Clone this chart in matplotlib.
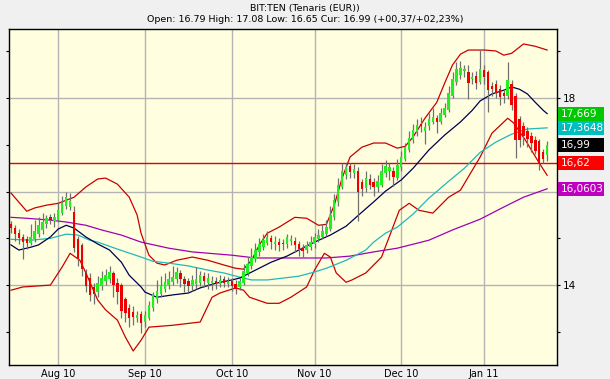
import matplotlib
matplotlib.use("Agg")
import matplotlib.pyplot as plt
import matplotlib.transforms as mtransforms
from matplotlib.patches import Rectangle

# ---- data ----
opens = [15.30, 15.22, 15.12, 15.02, 14.98, 14.90, 14.98, 15.10, 15.18, 15.30,
         15.45, 15.38, 15.40, 15.55, 15.70, 15.68, 15.56, 14.98, 14.85, 14.26,
         14.15, 13.95, 13.85, 13.98, 14.08, 14.12, 14.25, 14.05, 14.00, 13.70,
         13.50, 13.42, 13.30, 13.38, 13.20, 13.30, 13.50, 13.70, 13.82, 13.92,
         14.00, 14.06, 14.12, 14.25, 14.12, 14.08, 13.98, 14.02, 14.05, 14.20,
         14.05, 14.05, 14.08, 14.02, 14.12, 14.02, 14.08, 14.02, 13.95, 14.05,
         14.25, 14.40, 14.55, 14.70, 14.82, 14.90, 15.00, 14.88, 14.92, 14.90,
         14.88, 14.95, 14.95, 14.88, 14.80, 14.75, 14.82, 14.88, 14.98, 15.02,
         15.10, 15.20, 15.45, 15.78, 16.10, 16.35, 16.55, 16.40, 16.45, 16.20,
         16.08, 16.28, 16.20, 16.10, 16.15, 16.40, 16.45, 16.45, 16.30, 16.52,
         16.70, 16.90, 17.10, 17.28, 17.45, 17.30, 17.40, 17.50, 17.58, 17.50,
         17.65, 17.75, 18.05, 18.35, 18.50, 18.58, 18.56, 18.40, 18.48, 18.35,
         18.60, 18.55, 18.25, 18.30, 18.20, 18.12, 18.05, 18.30, 18.05, 17.55,
         17.40, 17.30, 17.20, 17.10, 17.08, 16.85, 16.79]
highs = [15.38, 15.28, 15.20, 15.10, 15.05, 15.30, 15.40, 15.45, 15.55, 15.50,
         15.52, 15.55, 15.75, 15.90, 15.99, 15.97, 15.70, 15.05, 14.90, 14.35,
         14.25, 14.05, 14.20, 14.30, 14.35, 14.40, 14.30, 14.15, 14.05, 13.75,
         13.60, 13.55, 13.45, 13.45, 13.45, 13.65, 13.85, 14.10, 14.20, 14.25,
         14.30, 14.40, 14.38, 14.32, 14.20, 14.15, 14.22, 14.38, 14.30, 14.28,
         14.25, 14.20, 14.18, 14.22, 14.20, 14.18, 14.15, 14.10, 14.15, 14.45,
         14.60, 14.80, 14.90, 15.00, 15.10, 15.15, 15.08, 15.05, 15.00, 14.98,
         15.10, 15.08, 15.02, 14.95, 14.88, 14.95, 15.05, 15.12, 15.20, 15.30,
         15.40, 15.70, 15.95, 16.30, 16.62, 16.62, 16.62, 16.60, 16.52, 16.28,
         16.45, 16.38, 16.30, 16.35, 16.60, 16.68, 16.62, 16.52, 16.70, 16.88,
         17.05, 17.30, 17.45, 17.55, 17.60, 17.48, 17.68, 17.78, 17.65, 17.80,
         17.90, 18.25, 18.55, 18.78, 18.80, 18.72, 18.72, 18.55, 18.58, 19.03,
         18.70, 18.60, 18.35, 18.38, 18.28, 18.20, 18.77, 18.38, 18.10, 17.62,
         17.48, 17.38, 17.28, 17.18, 17.12, 16.92, 17.08]
lows = [15.12, 14.95, 14.88, 14.55, 14.78, 14.85, 14.92, 15.02, 15.10, 15.22,
        15.30, 15.25, 15.35, 15.50, 15.62, 15.60, 14.70, 14.40, 14.20, 13.85,
        13.65, 13.60, 13.75, 13.90, 14.00, 14.05, 13.75, 13.60, 13.30, 13.20,
        13.10, 13.15, 13.20, 12.98, 13.10, 13.25, 13.45, 13.62, 13.75, 13.85,
        13.92, 14.00, 14.05, 13.95, 13.85, 13.85, 13.88, 13.92, 13.98, 13.95,
        13.92, 13.90, 13.92, 13.95, 13.95, 13.95, 13.88, 13.80, 13.90, 14.00,
        14.20, 14.35, 14.50, 14.62, 14.75, 14.85, 14.78, 14.75, 14.72, 14.75,
        14.80, 14.85, 14.70, 14.62, 14.60, 14.68, 14.75, 14.80, 14.92, 14.98,
        15.05, 15.15, 15.40, 15.70, 16.05, 16.28, 16.30, 16.30, 15.38, 15.90,
        16.00, 16.05, 15.90, 16.00, 16.10, 16.32, 16.25, 16.12, 16.25, 16.45,
        16.65, 16.85, 17.05, 17.20, 17.28, 17.02, 17.32, 17.45, 17.25, 17.45,
        17.60, 17.70, 18.00, 18.28, 18.40, 18.45, 17.98, 18.30, 18.20, 18.30,
        18.30, 17.70, 18.05, 18.00, 17.85, 17.90, 17.98, 17.75, 16.72, 16.95,
        17.00, 16.95, 16.85, 16.80, 16.46, 16.62, 16.65]
closes = [15.22, 15.10, 15.00, 14.92, 14.90, 15.02, 15.15, 15.28, 15.35, 15.43,
          15.40, 15.45, 15.60, 15.75, 15.88, 15.80, 14.80, 14.55, 14.35, 13.98,
          13.78, 13.82, 14.05, 14.15, 14.22, 14.28, 14.00, 13.85, 13.45, 13.40,
          13.30, 13.32, 13.36, 13.18, 13.35, 13.58, 13.78, 13.88, 13.98, 14.06,
          14.12, 14.18, 14.28, 14.12, 14.02, 13.98, 14.10, 14.12, 14.22, 14.08,
          14.15, 14.08, 14.04, 14.10, 14.05, 14.06, 13.98, 13.92, 14.08, 14.30,
          14.45, 14.60, 14.75, 14.88, 14.96, 15.02, 14.92, 14.92, 14.86, 14.88,
          15.02, 14.98, 14.85, 14.78, 14.72, 14.86, 14.92, 15.02, 15.08, 15.15,
          15.25, 15.50, 15.82, 16.15, 16.45, 16.52, 16.42, 16.48, 16.00, 16.05,
          16.30, 16.15, 16.10, 16.22, 16.45, 16.55, 16.52, 16.32, 16.58, 16.75,
          16.95, 17.15, 17.32, 17.42, 17.40, 17.38, 17.55, 17.60, 17.50, 17.68,
          17.78, 18.10, 18.40, 18.62, 18.65, 18.62, 18.32, 18.45, 18.32, 18.62,
          18.45, 18.18, 18.20, 18.12, 18.02, 18.05, 18.38, 17.85, 17.10, 17.10,
          17.20, 17.12, 17.05, 16.88, 16.60, 16.70, 16.99]

# month ticks (trading-day index of first session of each month)
month_idx = [12, 34, 56, 77, 99, 120]
month_labels = ["Aug 10", "Sep 10", "Oct 10", "Nov 10", "Dec 10", "Jan 11"]

# indicator lines read at sampled trading-day indices
ma_short_x = [0, 2, 5, 7, 10, 12, 14, 16, 19, 22, 25, 28, 30, 33, 34, 37, 41, 45, 48,
              52, 56, 58, 62, 66, 70, 73, 77, 81, 85, 89, 92, 95, 99, 102, 106, 110,
              114, 117, 119, 122, 125, 127, 129, 131, 133, 135, 136]
ma_short_y = [14.86, 14.75, 14.81, 14.86, 15.03, 15.20, 15.28, 15.22, 15.03, 14.88,
              14.75, 14.49, 14.21, 13.96, 13.85, 13.74, 13.79, 13.83, 13.94, 14.04,
              14.11, 14.15, 14.32, 14.49, 14.62, 14.75, 14.92, 15.07, 15.26, 15.56,
              15.78, 16.01, 16.25, 16.50, 16.89, 17.21, 17.49, 17.74, 17.94, 18.09,
              18.17, 18.24, 18.19, 18.09, 17.91, 17.74, 17.669]

ma_mid_x = [0, 5, 10, 14, 17, 20, 22, 27, 33, 36, 40, 45, 50, 54, 58, 61, 65, 69, 73,
            77, 80, 85, 90, 92, 95, 98, 102, 106, 111, 115, 119, 123, 127, 131, 136]
ma_mid_y = [14.98, 14.96, 15.00, 15.09, 15.07, 14.96, 14.92, 14.77, 14.60, 14.51,
            14.47, 14.41, 14.32, 14.26, 14.17, 14.11, 14.11, 14.15, 14.19, 14.28,
            14.36, 14.53, 14.75, 14.92, 15.11, 15.24, 15.52, 15.86, 16.22, 16.50,
            16.84, 17.06, 17.23, 17.34, 17.3648]

ma_long_x = [0, 4, 10, 14, 19, 23, 28, 33, 40, 46, 56, 62, 70, 80, 86, 92, 98, 106,
             112, 119, 125, 130, 136]
ma_long_y = [15.45, 15.43, 15.39, 15.35, 15.28, 15.18, 15.07, 14.92, 14.79, 14.71,
             14.64, 14.58, 14.58, 14.58, 14.62, 14.71, 14.79, 14.96, 15.18, 15.41,
             15.67, 15.88, 16.0603]

band_up_x = [0, 4, 6, 9, 12, 16, 19, 22, 24, 27, 30, 32, 33, 35, 37, 39, 42, 46, 50,
             54, 57, 59, 61, 63, 65, 68, 72, 75, 78, 80, 82, 84, 86, 89, 92, 95, 98,
             100, 102, 105, 108, 110, 112, 114, 116, 120, 123, 125, 127, 130, 133, 136]
band_up_y = [15.97, 15.58, 15.65, 15.71, 15.75, 15.88, 16.10, 16.27, 16.29, 16.16,
             15.88, 15.50, 15.11, 14.64, 14.47, 14.43, 14.53, 14.60, 14.53, 14.43,
             14.36, 14.34, 14.53, 14.86, 15.11, 15.24, 15.45, 15.43, 15.28, 15.30,
             15.71, 16.29, 16.74, 16.95, 17.04, 17.04, 16.93, 16.97, 17.17, 17.57,
             17.91, 18.32, 18.71, 18.94, 19.03, 19.03, 19.01, 18.92, 18.96, 19.16,
             19.11, 19.03]

band_lo_x = [0, 3, 10, 13, 15, 17.5, 19, 22, 24, 27, 29, 31, 33, 35, 41, 48, 51, 53,
             57, 59, 60.5, 65, 68, 71, 75, 77, 79.5, 81, 82.5, 85, 86.5, 90, 94, 98.5,
             101, 103.5, 107, 111, 114, 119, 122, 126, 127.5, 130.5, 134, 136]
band_lo_y = [13.89, 13.96, 14.00, 14.39, 14.68, 14.53, 14.26, 13.68, 13.47, 13.25,
             12.89, 12.59, 12.82, 13.10, 13.14, 13.21, 13.74, 13.83, 13.94, 13.89,
             13.74, 13.61, 13.61, 13.74, 13.96, 14.32, 14.68, 14.60, 14.26, 14.06,
             14.11, 14.26, 14.60, 15.60, 15.75, 15.60, 15.54, 15.88, 16.03, 16.74,
             17.25, 17.57, 17.47, 17.10, 16.61, 16.35]

ref_level = 16.62

# right-hand value boxes: (text, value, color)
box_labels = ["17,669", "17,3648", "16,99", "16,62", "16,0603"]
box_values = [17.669, 17.3648, 16.99, 16.62, 16.0603]
box_colors = ["#00C800", "#00BEBE", "#000000", "#FF0000", "#C000C0"]

title_line1 = "BIT:TEN (Tenaris (EUR))"
title_line2 = "Open: 16.79 High: 17.08 Low: 16.65 Cur: 16.99 (+00,37/+02,23%)"

# ---- figure ----
W, H, DPI = 610, 379, 100
fig = plt.figure(figsize=(W / DPI, H / DPI), dpi=DPI, facecolor="#F0F0F0")
L, R, T, B = 8.6, 557.0, 29.0, 365.0
ax = fig.add_axes([L / W, 1 - B / H, (R - L) / W, (B - T) / H])
ax.set_facecolor("#FFFFE0")

ax.set_xlim(-0.6, 138.5)
ax.set_ylim(12.29, 19.48)

# grid
for xi in month_idx:
    ax.axvline(xi, color="#B4B4B4", lw=1.0, zorder=1)
for yv in [14, 16, 18]:
    ax.axhline(yv, color="#B4B4B4", lw=1.0, zorder=1)

# reference horizontal line
ax.axhline(ref_level, color="#E00000", lw=1.0, zorder=2)

# indicators
ax.plot(band_up_x, band_up_y, color="#C80000", lw=0.9, zorder=3)
ax.plot(band_lo_x, band_lo_y, color="#C80000", lw=0.9, zorder=3)
ax.plot(ma_long_x, ma_long_y, color="#A000B4", lw=0.9, zorder=3)
ax.plot(ma_mid_x, ma_mid_y, color="#20B8B8", lw=0.9, zorder=3)
ax.plot(ma_short_x, ma_short_y, color="#000050", lw=0.9, zorder=3)

# candles
xs = list(range(len(closes)))
ax.vlines(xs, lows, highs, color="#707070", lw=0.9, zorder=4)
for x, o, c in zip(xs, opens, closes):
    col = "#22EE22" if c >= o else "#EE0000"
    lo = min(o, c)
    h = max(abs(c - o), 0.03)
    ax.bar(x, h, bottom=lo, width=0.62, color=col, lw=0, zorder=5)

# spines
for s in ax.spines.values():
    s.set_color("black")
    s.set_linewidth(1.0)

# x ticks
ax.set_xticks(month_idx)
ax.set_xticklabels(month_labels, fontsize=7, family="DejaVu Sans")
ax.tick_params(axis="x", length=0, pad=3)

# y ticks on right
ax.yaxis.tick_right()
ax.set_yticks([14, 16, 18])
ax.set_yticklabels(["14", "", "18"], fontsize=7.5)
ax.set_yticks([13, 15, 17, 19], minor=True)
ax.tick_params(axis="y", which="both", right=True, left=True, direction="out",
               length=2.5, width=0.8, pad=2)

# value boxes on right
trans = mtransforms.blended_transform_factory(ax.transAxes, ax.transData)
axw = R - L
bx0 = (R + 1 - L) / axw
bw = 46.0 / axw
bh = 14.0 / ((B - T) / (19.48 - 12.29))
for txt, val, colr in zip(box_labels, box_values, box_colors):
    ax.add_patch(Rectangle((bx0, val - bh / 2), bw, bh, transform=trans,
                           facecolor=colr, edgecolor="none", clip_on=False, zorder=6))
    ax.text(bx0 + 3.0 / axw, val, txt, transform=trans, color="white",
            fontsize=7.5, va="center", ha="left", clip_on=False, zorder=7)

# titles
fig.text(0.5, 1 - 9 / H, title_line1, ha="center", va="center", fontsize=6.8, color="black")
fig.text(0.5, 1 - 20 / H, title_line2, ha="center", va="center", fontsize=6.8, color="black")

fig.savefig("out.png", dpi=DPI, facecolor=fig.get_facecolor())
